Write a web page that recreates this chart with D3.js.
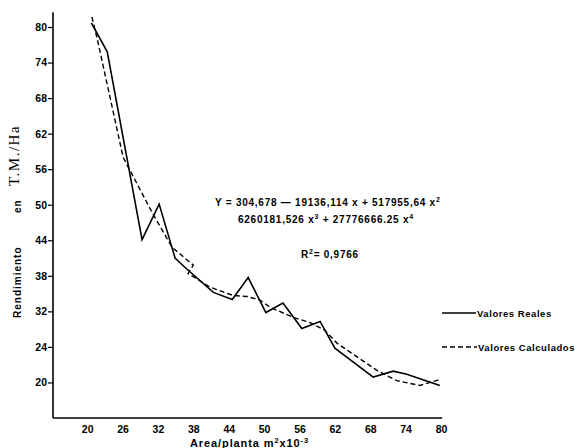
<!DOCTYPE html>
<html>
<head>
<meta charset="utf-8">
<script src="https://cdn.jsdelivr.net/npm/d3@7"></script>
<style>
  body { margin: 0; background: #fff; }
  svg { display: block; }
  .lbl { font-family: "Liberation Sans", "DejaVu Sans", sans-serif; font-weight: bold; fill: #000; }
</style>
</head>
<body>
<svg></svg>
<script>
//	data
var realX = [20.7, 23.4, 29.3, 32.2, 34.9, 36.6, 41.4, 44.6, 47.3, 50.3, 53.2, 56.4, 59.5, 62.0, 68.5, 71.9, 74.2, 79.8];
var realY = [80.7, 75.8, 44.1, 50.1, 41.0, 39.4, 35.2, 34.0, 37.7, 31.8, 33.4, 29.1, 30.3, 25.8, 20.9, 21.9, 21.4, 19.5];

var calcX = [20.8, 21.7, 26.1, 31.0, 34.4, 38.0, 37.1, 40.8, 44.7, 47.1, 49.3, 51.0, 54.9, 57.8, 60.3, 62.4, 69.2, 72.5, 76.4, 79.8];
var calcY = [81.7, 78.0, 58.0, 48.7, 42.8, 39.8, 38.4, 36.1, 34.7, 34.5, 33.9, 32.7, 31.0, 30.1, 28.8, 26.6, 22.0, 20.3, 19.5, 20.5];

//	ticks (the printed labels, as on the original)
var xTicks = [20, 26, 32, 38, 44, 50, 56, 62, 68, 74, 80];
var yTicks = [80, 74, 68, 62, 56, 50, 44, 38, 32, 26, 20];
var yTickLabels = ["80", "74", "68", "62", "56", "50", "44", "38", "32", "24", "20"];

var legendNames = ["Valores Reales", "Valores Calculados"];

var width = 578, height = 448;
var svg = d3.select("svg").attr("width", width).attr("height", height);

//	scales
var x = d3.scaleLinear().domain([14.2, 80]).range([53, 441]);
var y = d3.scaleLinear().domain([14, 80]).range([418, 27]);

//	axis lines
svg.append("line")
    .attr("x1", x(14.2)).attr("x2", x(14.2))
    .attr("y1", y(82.5)).attr("y2", y(14))
    .attr("stroke", "#000").attr("stroke-width", 1.6);
svg.append("line")
    .attr("x1", x(14.2)).attr("x2", x(80.2))
    .attr("y1", y(14)).attr("y2", y(14))
    .attr("stroke", "#000").attr("stroke-width", 1.6);

//	y axis
var yAxis = svg.append("g")
    .attr("transform", "translate(" + x(14.2) + ",0)")
    .call(d3.axisLeft(y).tickValues(yTicks).tickSize(5).tickPadding(1)
        .tickFormat(function(d, i) { return yTickLabels[i]; }));
yAxis.select(".domain").remove();
yAxis.selectAll("line").attr("stroke-width", 1.2);
yAxis.selectAll("text").attr("class", "lbl").style("font-size", "10.5px");

//	x axis
var xAxis = svg.append("g")
    .attr("transform", "translate(0," + y(14) + ")")
    .call(d3.axisBottom(x).tickValues(xTicks).tickSize(0).tickPadding(8));
xAxis.select(".domain").remove();
xAxis.selectAll("text").attr("class", "lbl").style("font-size", "10.5px");

//	lines
var line = d3.line()
    .x(function(d) { return x(d[0]); })
    .y(function(d) { return y(d[1]); });

svg.append("path")
    .datum(calcX.map(function(v, i) { return [v, calcY[i]]; }))
    .attr("d", line)
    .attr("fill", "none").attr("stroke", "#000")
    .attr("stroke-width", 1.4).attr("stroke-dasharray", "5,3");

svg.append("path")
    .datum(realX.map(function(v, i) { return [v, realY[i]]; }))
    .attr("d", line)
    .attr("fill", "none").attr("stroke", "#000")
    .attr("stroke-width", 1.6);

//	axis titles
svg.append("text").attr("class", "lbl")
    .attr("transform", "translate(21,318) rotate(-90)")
    .style("font-size", "10px").style("letter-spacing", "1px")
    .text("Rendimiento");
svg.append("text").attr("class", "lbl")
    .attr("transform", "translate(21,213) rotate(-90)")
    .style("font-size", "10px").style("letter-spacing", "1px")
    .text("en");
svg.append("text")
    .attr("transform", "translate(19,186) rotate(-90)")
    .style("font-family", "'Liberation Serif', serif").style("font-size", "15px")
    .style("letter-spacing", "1.5px").text("T.M./Ha");

var xTitle = svg.append("text").attr("class", "lbl")
    .attr("x", 190).attr("y", 447).style("font-size", "11px").style("letter-spacing", "0.9px");
xTitle.append("tspan").text("Area/planta  m");
xTitle.append("tspan").attr("dy", -4).style("font-size", "7.5px").text("2");
xTitle.append("tspan").attr("dy", 4).text("x10");
xTitle.append("tspan").attr("dy", -4).style("font-size", "7.5px").text("-3");

//	equation
var eq = svg.append("g").style("letter-spacing", "0.75px");
var l1 = eq.append("text").attr("class", "lbl").attr("x", 215).attr("y", 206).style("font-size", "10px");
l1.append("tspan").text("Y = 304,678 \u2014 19136,114 x + 517955,64 x");
l1.append("tspan").attr("dy", -4).style("font-size", "7px").text("2");
var l2 = eq.append("text").attr("class", "lbl").attr("x", 238).attr("y", 223).style("font-size", "10px");
l2.append("tspan").text("6260181,526 x");
l2.append("tspan").attr("dy", -4).style("font-size", "7px").text("3");
l2.append("tspan").attr("dy", 4).text("  + 27776666.25 x");
l2.append("tspan").attr("dy", -4).style("font-size", "7px").text("4");
var r2 = eq.append("text").attr("class", "lbl").attr("x", 301).attr("y", 258).style("font-size", "10px");
r2.append("tspan").text("R");
r2.append("tspan").attr("dy", -4).style("font-size", "7px").text("2");
r2.append("tspan").attr("dy", 4).text("= 0,9766");

//	legend
var legend = svg.append("g").selectAll("g")
    .data(legendNames)
    .enter().append("g")
    .attr("transform", function(d, i) { return "translate(442," + (313 + i * 34) + ")"; });
legend.append("line")
    .attr("x1", 0).attr("x2", function(d, i) { return i ? 35 : 34; })
    .attr("y1", 0).attr("y2", 0)
    .attr("stroke", "#000").attr("stroke-width", 1.3)
    .attr("stroke-dasharray", function(d, i) { return i ? "5,3" : null; });
legend.append("text").attr("class", "lbl")
    .attr("x", function(d, i) { return i ? 36 : 35; }).attr("y", 3.5)
    .style("font-size", "9.5px").style("letter-spacing", "0.55px")
    .text(function(d) { return d; });
</script>
</body>
</html>
